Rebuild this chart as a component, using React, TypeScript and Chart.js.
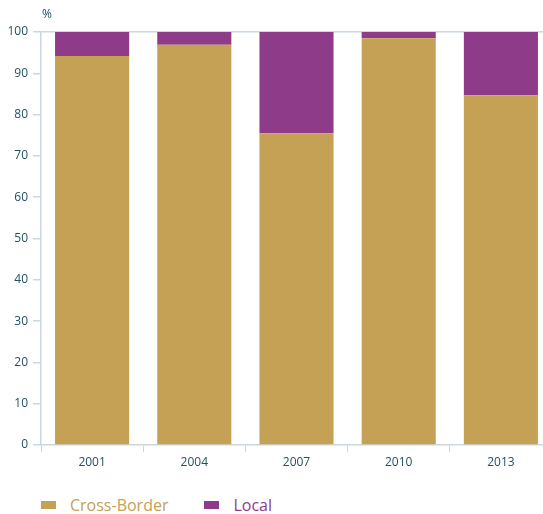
import React, { useEffect, useRef } from "react";
import { Chart, registerables } from "chart.js";

Chart.register(...registerables);

const categories = ["2001", "2004", "2007", "2010", "2013"];
const crossBorder = [94.2, 96.9, 75.5, 98.5, 84.7];
const local = [5.8, 3.1, 24.5, 1.5, 15.3];
const yTicks = [0, 10, 20, 30, 40, 50, 60, 70, 80, 90, 100];

const GOLD = "#C4A155";
const PURPLE = "#8E3C8A";
const TEAL = "#22525f";
const AXIS = "#c9d8de";
const FONT = "'Open Sans', sans-serif";

const percentPlugin = {
  id: "percentLabel",
  afterDraw(chart: any) {
    const { ctx, chartArea } = chart;
    ctx.save();
    ctx.font = `12px ${FONT}`;
    ctx.fillStyle = TEAL;
    ctx.textAlign = "left";
    ctx.textBaseline = "middle";
    ctx.fillText("%", chartArea.left + 1, chartArea.top - 17);
    ctx.restore();
  },
};

export default function App() {
  const ref = useRef<HTMLCanvasElement>(null);
  useEffect(() => {
    if (!ref.current) return;
    const chart = new Chart(ref.current, {
      type: "bar",
      data: {
        labels: categories,
        datasets: [
          { label: "Cross-Border", data: crossBorder, backgroundColor: GOLD, borderWidth: 0 },
          { label: "Local", data: local, backgroundColor: PURPLE, borderWidth: 0 },
        ],
      },
      options: {
        animation: false,
        responsive: false,
        events: [],
        layout: { padding: { top: 32, right: 8, left: 0, bottom: 0 } },
        datasets: { bar: { categoryPercentage: 1, barPercentage: 0.725 } },
        plugins: { legend: { display: false }, tooltip: { enabled: false } },
        scales: {
          x: {
            stacked: true,
            offset: true,
            grid: {
              offset: true,
              drawOnChartArea: false,
              drawTicks: true,
              tickLength: 7,
              tickColor: AXIS,
            },
            border: { color: AXIS, width: 1.5 },
            ticks: { color: TEAL, font: { family: FONT, size: 12 }, padding: 3 },
            afterFit: (s: any) => { s.height = 30; },
          },
          y: {
            stacked: true,
            min: 0,
            max: 100,
            z: 1,
            afterBuildTicks: (s: any) => { s.ticks = yTicks.map((v) => ({ value: v })); },
            grid: {
              color: (c: any) => (c.tick && c.tick.value === 100 ? AXIS : "rgba(0,0,0,0)"),
              lineWidth: 1.5,
              drawTicks: true,
              tickLength: 8,
              tickColor: AXIS,
            },
            border: { color: AXIS, width: 1.5 },
            ticks: { color: TEAL, font: { family: FONT, size: 12 }, padding: 5 },
            afterFit: (s: any) => { s.width = 41; },
          },
        },
      },
      plugins: [percentPlugin],
    } as any);
    return () => chart.destroy();
  }, []);

  return (
    <div style={{ position: "absolute", left: 0, top: 0, width: 543, height: 514, overflow: "hidden", background: "#fff" }}>
      <canvas ref={ref} width={560} height={475} style={{ display: "block" }} />
      <div style={{ position: "absolute", top: 494, left: 41, display: "flex", alignItems: "center", fontFamily: FONT, fontSize: 16 }}>
        <span style={{ width: 15, height: 8, background: GOLD, display: "inline-block" }} />
        <span style={{ color: GOLD, marginLeft: 14 }}>Cross-Border</span>
        <span style={{ width: 15, height: 8, background: PURPLE, display: "inline-block", marginLeft: 36 }} />
        <span style={{ color: PURPLE, marginLeft: 14 }}>Local</span>
      </div>
    </div>
  );
}
